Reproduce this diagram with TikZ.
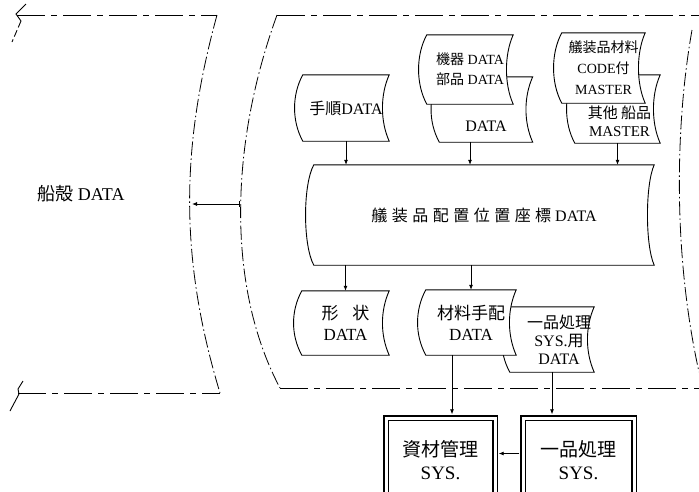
\documentclass[tikz,border=0pt]{standalone}
\usepackage{fontspec}
\setmainfont{Liberation Serif}
\newfontfamily\jpf{Noto Sans CJK JP}
\newfontfamily\jpwide{Noto Sans CJK JP}[LetterSpace=28]
\usetikzlibrary{arrows.meta}
\newcommand{\jtext}[1]{{\jpf #1}}

\begin{document}
\begin{tikzpicture}[
  x=1pt, y=-1pt,
  font=\fontsize{16}{20}\selectfont,
  stordata/.style={align=center, inner sep=0pt,
    append after command={
      \pgfextra{\pgfinterruptpath
        \draw[line width=0.9pt, fill=white]
          (\tikzlastnode.north west)
            .. controls +(-11pt,-20pt) and +(-11pt,20pt) .. (\tikzlastnode.south west)
          -- (\tikzlastnode.south east)
            .. controls +(-9pt,20pt) and +(-9pt,-20pt) .. (\tikzlastnode.north east)
          -- cycle;
      \endpgfinterruptpath}}},
  sysbox/.style={draw, line width=1.4pt, double, double distance=3pt, align=center,
    minimum height=85pt, font=\fontsize{19}{23}\selectfont},
  arrow/.style={-{Latex[length=5pt,width=4pt]}, line width=0.8pt},
  dashdot/.style={line width=0.8pt, dash pattern=on 14pt off 3pt on 1.5pt off 3pt},
  border/.style={line width=0.9pt, dash pattern=on 28pt off 6pt on 6pt off 6pt},
]
\clip (0,0) rectangle (699,491);

% hull side
\draw[border] (17,15) -- (217,15);
\draw[border] (18,393) -- (220,393);
\draw[dashdot] (217,15) .. controls (180,150) and (180,260) .. (220,393);
\draw[line width=0.9pt] (26,4) -- (16,14) -- (21,21);
\draw[line width=0.9pt, dash pattern=on 7pt off 3pt] (21,21) -- (12,42);
\draw[line width=0.9pt] (23,381) -- (18,389) -- (19,394) -- (10,411);
\node[font=\fontsize{18}{20}\selectfont] (hull) at (81,194) {\jtext{船殻} DATA};

% outfitting side
\draw[border] (277,15) -- (699,15);
\draw[border] (280,388) -- (699,388);
\draw[dashdot] (277,15) .. controls (228,150) and (228,290) .. (280,388);
\draw[dashdot] (692,30) .. controls (676,120) and (672,250) .. (699,372);

\coordinate (outfitL) at (240,204);
\coordinate (hullR) at (192,204);
\draw[{Bar[width=6pt]}-{Latex[length=5pt,width=4pt]}, line width=0.8pt] (outfitL) -- (hullR);

% input data
\node[stordata, minimum width=86pt, minimum height=66pt] (tejun) at (346,108) {\jtext{手順}DATA};
\node[stordata, minimum width=93pt, minimum height=65pt,
  label={[yshift=-17pt]center:DATA}] (kikib) at (486,109.5) {};
\node[stordata, minimum width=86pt, minimum height=69pt, font=\fontsize{14}{20}\selectfont]
  (kiki) at (470,69.5) {\jtext{機器} DATA\\\jtext{部品} DATA};
\node[stordata, minimum width=85pt, minimum height=68pt,
  label={[align=center, xshift=2pt, yshift=-12pt, font=\fontsize{15}{18}\selectfont]center:\jtext{其他 船品}\\MASTER}]
  (masterb) at (617.5,109) {};
\node[stordata, minimum width=83pt, minimum height=70pt, font=\fontsize{14}{21}\selectfont]
  (master) at (603.5,68) {\jtext{艤装品材料}\\CODE\jtext{付}\\MASTER};

\node[stordata, minimum width=340pt, minimum height=100pt] (zahyo) at (484,215)
  {{\jpwide 艤装品配置位置座標} DATA};

% output data
\node[stordata, minimum width=87pt, minimum height=64pt, font=\fontsize{17}{21}\selectfont]
  (keijo) at (345.5,323) {\jtext{形\hspace{0.8em}状}\\DATA};
\node[stordata, minimum width=84pt, minimum height=65pt,
  label={[align=center, xshift=7pt, font=\fontsize{16}{18}\selectfont]center:\jtext{一品処理}\\SYS.\jtext{用}\\DATA}]
  (ippind) at (552,339.5) {};
\node[stordata, minimum width=90pt, minimum height=65pt, font=\fontsize{17}{21}\selectfont]
  (zairyo) at (471,322.5) {\jtext{材料手配}\\DATA};

% systems
\node[sysbox, minimum width=109pt] (shizai) at (440.5,460.5) {\jtext{資材管理}\\SYS.};
\node[sysbox, minimum width=111pt] (ippins) at (578.5,460.5) {\jtext{一品処理}\\SYS.};

\draw[arrow] (tejun.south) -- (tejun.south |- zahyo.north);
\draw[arrow] (kikib.south -| kiki.south) -- (kiki.south |- zahyo.north);
\draw[arrow] (masterb.south) -- (masterb.south |- zahyo.north);
\draw[arrow] (zahyo.south -| keijo.north) -- (keijo.north);
\draw[arrow] (zahyo.south -| zairyo.north) -- (zairyo.north);
\draw[arrow, shorten >=3pt] ([xshift=-19pt]zairyo.south) -- ([xshift=-19pt]zairyo.south |- shizai.north);
\draw[arrow, shorten >=3pt] (ippind.south) -- (ippind.south |- ippins.north);
\draw[arrow, shorten <=3pt, shorten >=3pt] ([yshift=7pt]ippins.west) -- ([yshift=7pt]shizai.east);

\end{tikzpicture}
\end{document}
